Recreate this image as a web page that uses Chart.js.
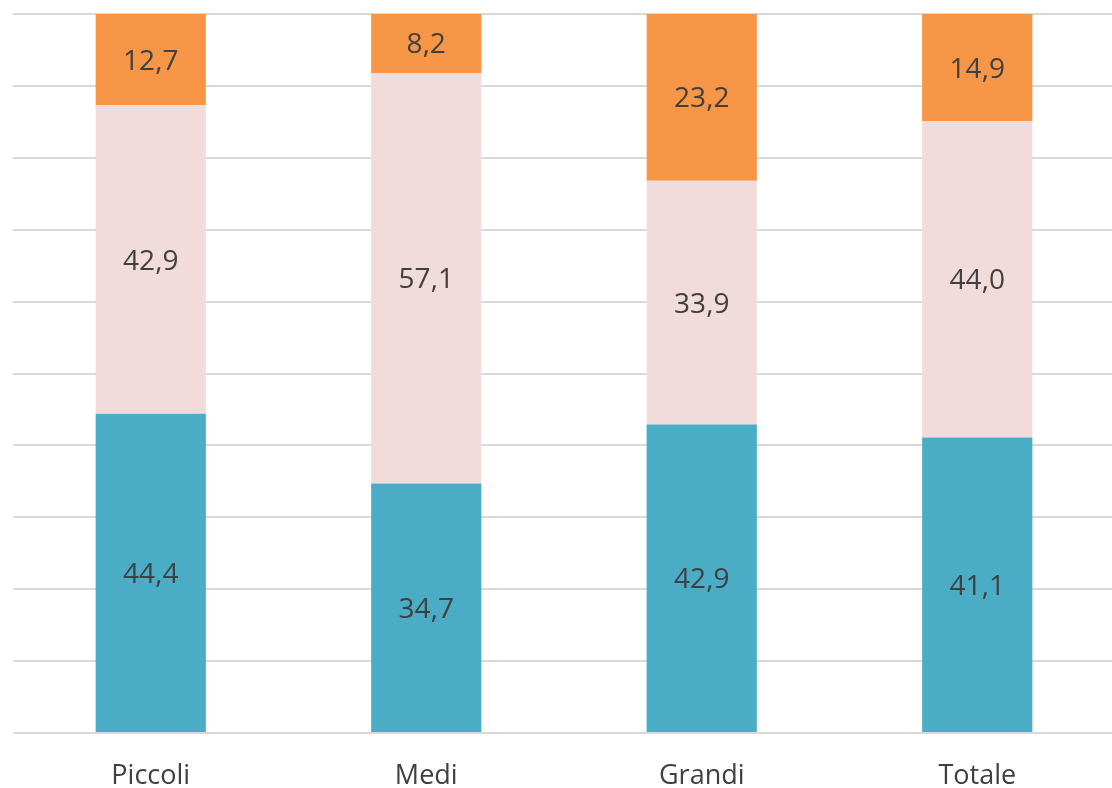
<!DOCTYPE html>
<html>
<head>
<meta charset="utf-8">
<script src="https://cdn.jsdelivr.net/npm/chart.js@4/dist/chart.umd.min.js"></script>
<style>
  html, body { margin: 0; padding: 0; background: #fff; overflow: hidden; }
  canvas { display: block; }
</style>
</head>
<body>
<canvas id="stackChart" width="1116" height="788"></canvas>
<script>
// Categories and series (percentages)
const categories = ["Piccoli", "Medi", "Grandi", "Totale"];
const serieBasso = [44.4, 34.7, 42.9, 41.1];
const serieMedio = [42.9, 57.1, 33.9, 44.0];
const serieAlto = [12.7, 8.2, 23.2, 14.9];
const yTicks = [0, 10, 20, 30, 40, 50, 60, 70, 80, 90, 100];

const textColor = "#404040";
const gridColor = "#D9D9D9";
const fontFamily = "'Open Sans', sans-serif";

// Simple inline data label plugin (values centered in each segment)
const barLabels = {
  id: "barLabels",
  afterDatasetsDraw(chart) {
    const ctx = chart.ctx;
    ctx.save();
    ctx.font = "28px " + fontFamily;
    ctx.fillStyle = textColor;
    ctx.textAlign = "center";
    ctx.textBaseline = "middle";
    chart.data.datasets.forEach((ds, i) => {
      const meta = chart.getDatasetMeta(i);
      meta.data.forEach((bar, j) => {
        const p = bar.getCenterPoint();
        const txt = ds.data[j].toFixed(1).replace(".", ",");
        ctx.fillText(txt, p.x, p.y + 2);
      });
    });
    ctx.restore();
  }
};

function createStackChart() {
  const ctx = document.getElementById("stackChart").getContext("2d");
  new Chart(ctx, {
    type: "bar",
    data: {
      labels: categories,
      datasets: [
        { label: "Basso", data: serieBasso, backgroundColor: "#4BACC6" },
        { label: "Medio", data: serieMedio, backgroundColor: "#F2DCDB" },
        { label: "Alto", data: serieAlto, backgroundColor: "#F79646" },
      ],
    },
    options: {
      responsive: false,
      animation: false,
      devicePixelRatio: 1,
      layout: { padding: { left: 13, right: 1, top: 14, bottom: 0 } },
      datasets: { bar: { categoryPercentage: 1, barPercentage: 0.4 } },
      plugins: {
        legend: { display: false },
        tooltip: { enabled: false },
      },
      scales: {
        x: {
          stacked: true,
          grid: { display: false, drawTicks: false },
          border: { display: false },
          afterFit: (axis) => { axis.height = 55; },
          ticks: {
            color: textColor,
            padding: 30,
            font: { family: fontFamily, size: 27, lineHeight: 1 },
          },
        },
        y: {
          stacked: true,
          min: 0,
          max: 100,
          afterBuildTicks: (axis) => { axis.ticks = yTicks.map((v) => ({ value: v })); },
          grid: { color: gridColor, lineWidth: 2, drawTicks: false },
          border: { display: false },
          ticks: { display: false },
        },
      },
    },
    plugins: [barLabels],
  });
}

createStackChart();
</script>
</body>
</html>
